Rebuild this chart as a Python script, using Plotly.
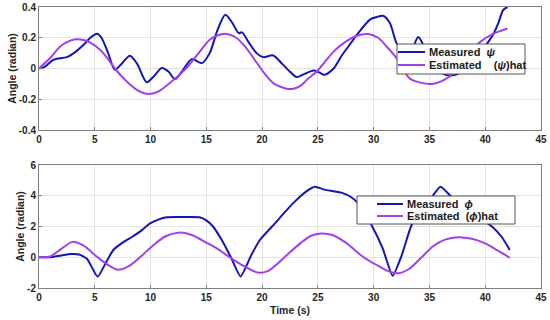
import plotly.graph_objects as go

# ---- top panel: psi ----
psi_t = [0, 0.5, 1.3, 2.5, 3.3, 4.0, 4.6, 5.2, 5.6, 6.2, 6.8, 7.4, 8.15, 8.8, 9.65, 10.3, 11.0,
         11.6, 12.2, 12.9, 13.7, 14.6, 15.3, 16.0, 16.7, 17.3, 17.9, 18.2, 18.8, 19.5, 20.1,
         21.0, 21.8, 22.6, 23.1, 23.8, 24.6, 25.1, 25.6, 26.4, 27.1, 28.0, 28.5, 29.7, 30.3,
         30.85, 31.45, 32.05, 32.8, 33.4, 34.0, 34.6, 35.4, 36.4, 37.4, 38.5, 39.5, 40.2, 40.7,
         41.2, 41.6, 42.0]
psi_meas = [0, 0.01, 0.057, 0.074, 0.11, 0.154, 0.2, 0.226, 0.2, 0.1, -0.008, 0.03, 0.083, 0.03, -0.089,
            -0.05, 0.003, -0.02, -0.069, -0.01, 0.061, 0.035, 0.1, 0.25, 0.35, 0.3, 0.23, 0.235, 0.17,
            0.1, 0.074, 0.085, 0.03, -0.028, -0.056, -0.035, -0.013, -0.025, -0.041, 0.0, 0.08, 0.17,
            0.22, 0.32, 0.335, 0.343, 0.296, 0.165, 0.09, 0.12, 0.205, 0.13, 0.02, -0.04, -0.04, 0.02,
            0.09, 0.165, 0.22, 0.3, 0.38, 0.4]

psi_hat_t = [0, 1.0, 1.9, 2.6, 3.3, 4.0, 4.6, 5.5, 6.2, 6.8, 7.8, 8.8, 9.8, 10.8, 11.8, 12.6,
             13.3, 14.2, 15.3, 16.0, 16.8, 17.6, 18.5, 19.4, 20.3, 21.1, 22.3, 22.9, 23.5, 24.0,
             24.9, 25.6, 26.4, 27.4, 28.5, 29.5, 30.4, 31.2, 32.05, 33.2, 34.2, 35.2, 36.0, 36.8,
             37.7, 38.6, 39.5, 40.7, 42.0]
psi_hat = [0, 0.068, 0.143, 0.175, 0.19, 0.185, 0.168, 0.12, 0.06, 0.0, -0.08, -0.14, -0.165, -0.145,
           -0.09, -0.04, 0.01, 0.09, 0.187, 0.215, 0.225, 0.205, 0.14, 0.05, -0.04, -0.1, -0.133,
           -0.13, -0.11, -0.074, -0.02, 0.04, 0.11, 0.17, 0.213, 0.224, 0.2, 0.14, 0.068, -0.063,
           -0.092, -0.1, -0.085, -0.052, 0.02, 0.1, 0.17, 0.225, 0.26]

# ---- bottom panel: phi ----
phi_t = [0, 1.0, 2.0, 2.9, 3.6, 4.3, 5.26, 6.0, 6.66, 7.4, 8.4, 9.2, 9.95, 10.7, 11.44, 12.5, 13.5,
         14.4, 15.0, 15.6, 16.4, 17.2, 18.07, 19.0, 19.8, 21.15, 22.0, 22.9, 24.0, 24.73, 25.6,
         27.1, 28.0, 28.6, 29.8, 30.8, 31.7, 32.5, 33.4, 34.3, 35.2, 36.0, 37.0, 38.0, 39.0, 40.0,
         40.6, 41.5, 42.2]
phi_meas = [0, 0.0, 0.12, 0.21, 0.18, -0.1, -1.26, -0.35, 0.47, 0.9, 1.35, 1.75, 2.2, 2.45, 2.6,
            2.62, 2.62, 2.6, 2.4, 2.0, 1.1, 0.0, -1.25, 0.1, 1.12, 2.2, 2.9, 3.6, 4.3, 4.58, 4.4,
            4.2, 3.9, 3.5, 2.1, 0.6, -1.21, 0.1, 2.1, 3.0, 3.9, 4.58, 3.9, 3.3, 2.8, 2.3, 2.0, 1.3,
            0.47]

phi_hat_t = [0, 1.0, 2.0, 3.0, 4.0, 5.0, 5.6, 6.3, 7.1, 8.0, 9.05, 10.2, 11.3, 12.5, 13.7, 15.0,
             16.0, 17.1, 18.3, 19.65, 20.5, 21.15, 22.3, 23.5, 24.4, 25.3, 26.3, 27.5, 29.1, 30.5,
             31.3, 32.2, 33.2, 34.3, 35.3, 36.4, 37.6, 38.8, 40.0, 41.1, 42.2]
phi_hat = [0, 0.05, 0.55, 1.0, 0.75, 0.15, -0.2, -0.55, -0.82, -0.6, 0.0, 0.75, 1.35, 1.6, 1.45,
           0.95, 0.55, 0.0, -0.55, -1.0, -0.9, -0.56, 0.2, 0.95, 1.4, 1.55, 1.45, 0.95, 0.0, -0.6,
           -0.9, -1.04, -0.75, 0.0, 0.7, 1.15, 1.3, 1.2, 0.9, 0.45, -0.03]

x_ticks = [0, 5, 10, 15, 20, 25, 30, 35, 40, 45]
psi_ticks = [-0.4, -0.2, 0, 0.2, 0.4]
psi_tick_labels = ["-0.4", "-0.2", "0", "0.2", "0.4"]
phi_ticks = [-2, 0, 2, 4, 6]
phi_tick_labels = ["-2", "0", "2", "4", "6"]
psi_legend = ["Measured  <i>ψ</i>", "Estimated    (<i>ψ</i>)hat"]
phi_legend = ["Measured  <i>ϕ</i>", "Estimated  (<i>ϕ</i>)hat"]

BLUE = "#1414B8"
PURPLE = "#A040EC"
FAM = "Liberation Sans, Arial, sans-serif"
TICKFONT = dict(family=FAM, size=10, color="#262626", weight="bold")
TITLEFONT = dict(family=FAM, size=10.5, color="#262626", weight="bold")
LEGFONT = dict(family=FAM, size=11, color="#1a1a1a", weight="bold")

# pixel geometry helpers (figure 550x320, plot area x 39..541, y 7..288)
L, R, T, B = 39, 9, 7, 32
PW, PH = 550 - L - R, 320 - T - B
def px(x):
    return (x - L) / PW
def py(y):
    return (320 - B - y) / PH

fig = go.Figure()
fig.add_trace(go.Scatter(x=psi_t, y=psi_meas, mode="lines", name=psi_legend[0],
                         line=dict(color=BLUE, width=2, shape="spline", smoothing=0.8),
                         xaxis="x", yaxis="y", showlegend=False))
fig.add_trace(go.Scatter(x=psi_hat_t, y=psi_hat, mode="lines", name=psi_legend[1],
                         line=dict(color=PURPLE, width=2, shape="spline", smoothing=0.8),
                         xaxis="x", yaxis="y", showlegend=False))
fig.add_trace(go.Scatter(x=phi_t, y=phi_meas, mode="lines", name=phi_legend[0],
                         line=dict(color=BLUE, width=2, shape="spline", smoothing=0.5),
                         xaxis="x2", yaxis="y2", showlegend=False))
fig.add_trace(go.Scatter(x=phi_hat_t, y=phi_hat, mode="lines", name=phi_legend[1],
                         line=dict(color=PURPLE, width=2, shape="spline", smoothing=0.8),
                         xaxis="x2", yaxis="y2", showlegend=False))

axis_common = dict(showline=True, linecolor="#7f7f7f", linewidth=1, mirror=True,
                   showgrid=True, gridcolor="#e3e3e3", gridwidth=1, zeroline=False,
                   ticks="inside", ticklen=3, tickcolor="#7f7f7f", tickfont=TICKFONT,
                   automargin=False)

top_dom = [py(130), 1.0]
bot_dom = [0.0, py(165)]

fig.update_layout(
    xaxis=dict(range=[0, 45], tickvals=x_ticks, anchor="y", domain=[0, 1], **axis_common),
    yaxis=dict(range=[-0.4, 0.4], tickvals=psi_ticks, ticktext=psi_tick_labels, anchor="x",
               domain=top_dom, title=dict(text="Angle (radian)", font=TITLEFONT, standoff=0),
               **axis_common),
    xaxis2=dict(range=[0, 45], tickvals=x_ticks, anchor="y2", domain=[0, 1],
                title=dict(text="Time (s)", font=TITLEFONT, standoff=4), **axis_common),
    yaxis2=dict(range=[-2, 6], tickvals=phi_ticks, ticktext=phi_tick_labels, anchor="x2",
                domain=bot_dom, title=dict(text="Angle (radian)", font=TITLEFONT, standoff=0),
                **axis_common),
    width=550, height=320,
    margin=dict(l=L, r=R, t=T, b=B, autoexpand=False),
    paper_bgcolor="white", plot_bgcolor="white",
    showlegend=False,
)

# ---- legends (box, line swatches, labels) ----
def add_legend(box, rows, line_x, text_x, labels, colors):
    fig.add_shape(type="rect", xref="paper", yref="paper",
                  x0=px(box[0]), x1=px(box[1]), y0=py(box[3]), y1=py(box[2]),
                  fillcolor="white", line=dict(color="#555555", width=1), layer="above")
    for yy, lab, col in zip(rows, labels, colors):
        fig.add_shape(type="line", xref="paper", yref="paper",
                      x0=px(line_x[0]), x1=px(line_x[1]), y0=py(yy), y1=py(yy),
                      line=dict(color=col, width=2), layer="above")
        fig.add_annotation(xref="paper", yref="paper", x=px(text_x), y=py(yy),
                           text=lab, showarrow=False, xanchor="left", yanchor="middle",
                           font=LEGFONT)

add_legend((397, 525, 44, 74), (52, 65), (398, 425), 427, psi_legend, (BLUE, PURPLE))
add_legend((357, 515, 196, 224), (204, 216), (377, 403), 405, phi_legend, (BLUE, PURPLE))

fig.write_html("out.html", config={"displayModeBar": False},
               post_script="document.body.style.margin='0';")
